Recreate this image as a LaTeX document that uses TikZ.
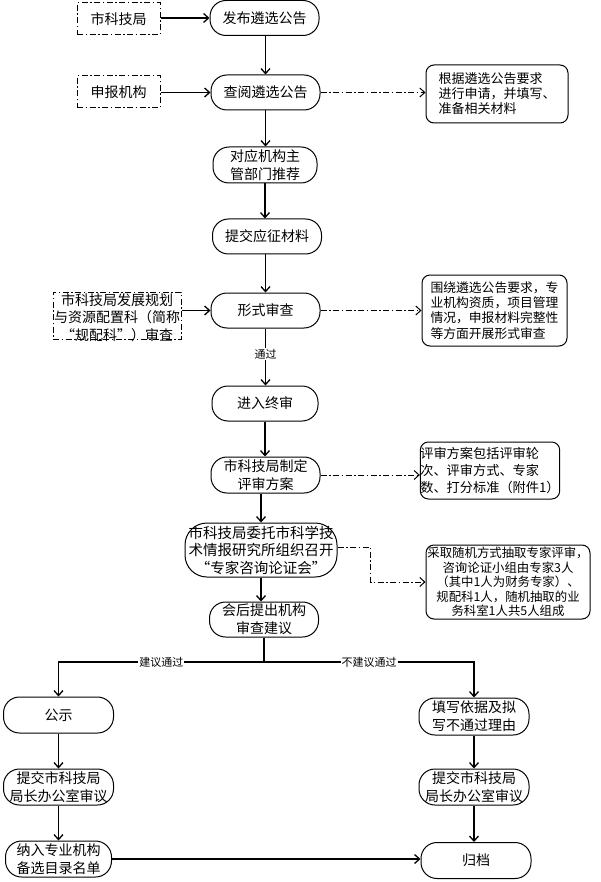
\documentclass[tikz,border=0pt]{standalone}
\usepackage{fontspec}
\setmainfont{Noto Sans CJK SC}
\usetikzlibrary{arrows.meta}
\begin{document}
\begin{tikzpicture}[x=1pt,y=-1pt,
  proc/.style={draw, line width=1pt, rounded corners=16pt, minimum width=109pt, minimum height=35pt, inner sep=0pt, align=center, font=\fontsize{14}{18}\selectfont},
  note/.style={draw, line width=1pt, rounded corners=8pt, inner sep=0pt, align=left},
  dashbox/.style={draw, line width=1pt, dash pattern=on 6pt off 2.5pt on 1.5pt off 2.5pt, inner sep=0pt},
  arr/.style={draw, line width=1.3pt, -{Straight Barb[length=5pt,width=9pt]}},
  plain/.style={draw, line width=1.3pt},
  dasharr/.style={draw, line width=1pt, dash pattern=on 6pt off 2.5pt on 1.5pt off 2.5pt, -{Straight Barb[length=5pt,width=9pt]}},
  lbl/.style={fill=white, inner sep=1pt, font=\fontsize{11}{13}\selectfont}
]
\useasboundingbox[fill=white] (0,0) rectangle (600,882);

% left dashed boxes
\node[dashbox, minimum width=83pt, minimum height=32pt, font=\fontsize{14}{18}\selectfont] (skj) at (118.5,19) {市科技局};
\node[dashbox, minimum width=83pt, minimum height=32pt, font=\fontsize{14}{18}\selectfont] (sbjg) at (118.5,92) {申报机构};
\node[dashbox, minimum width=128pt, minimum height=47pt] (gpk) at (117,315.5) {};
\node[align=center, inner sep=0pt, font=\fontsize{14}{17.5}\selectfont] (gpkt) at (117,317.5) {市科技局发展规划\\与资源配置科（简称\\“规配科”）审查};

% main column
\node[proc] (fb) at (264.5,18) {发布遴选公告};
\node[proc] (cy) at (265.5,92.5) {查阅遴选公告};
\node[proc, minimum width=104pt, minimum height=36pt] (dy) at (265,165) {对应机构主\\管部门推荐};
\node[proc] (tj) at (267,236.5) {提交应征材料};
\node[proc] (xs) at (265.5,310.5) {形式审查};
\node[proc, minimum width=106pt] (jr) at (265,403.5) {进入终审};
\node[proc, minimum height=36pt] (zd) at (265.5,475) {市科技局制定\\评审方案};
\node[proc, rounded corners=22pt, minimum width=152pt, minimum height=54pt, font=\fontsize{14.5}{17.5}\selectfont] (wt) at (261,550) {市科技局委托市科学技\\术情报研究所组织召开\\“专家咨询论证会”};
\node[proc] (hh) at (264,619.5) {会后提出机构\\审查建议};

% notes
\node[note, minimum width=142pt, minimum height=58pt, font=\fontsize{13}{15}\selectfont] (n1) at (497,94) {根据遴选公告要求\\进行申请，并填写、\\准备相关材料};
\node[note, minimum width=145pt, minimum height=71pt, font=\fontsize{12.8}{15.3}\selectfont] (n2) at (494.5,310.5) {围绕遴选公告要求，专\\业机构资质，项目管理\\情况，申报材料完整性\\等方面开展形式审查};
\node[note, minimum width=134pt, minimum height=57pt, font=\fontsize{13.2}{17}\selectfont] (n3) at (490,470.5) {评审方案包括评审轮\\次、评审方式、专家\\数、打分标准（附件1）};
\node[note, align=center, minimum width=164pt, minimum height=74pt, font=\fontsize{12.4}{14.5}\selectfont] (n4) at (508,582) {采取随机方式抽取专家评审，\\咨询论证小组由专家3人\\（其中1人为财务专家）、\\规配科1人，随机抽取的业\\务科室1人共5人组成};

% bottom boxes
\node[proc, minimum width=110pt, minimum height=36pt] (gs) at (58.5,715) {公示};
\node[proc, minimum width=110pt, minimum height=36pt] (tjl) at (58.5,787) {提交市科技局\\局长办公室审议};
\node[proc, minimum width=106pt, minimum height=36pt] (nr) at (58.5,859) {纳入专业机构\\备选目录名单};
\node[proc, minimum width=110pt, minimum height=37pt] (tx) at (474,716.5) {填写依据及拟\\写不通过理由};
\node[proc, minimum width=110pt, minimum height=36pt] (tjr) at (474,787) {提交市科技局\\局长办公室审议};
\node[proc, minimum width=110pt, minimum height=36pt] (gd) at (476,860.5) {归档};

% connectors
\draw[arr] (skj.east |- fb.west) -- (fb.west);
\draw[arr] (sbjg.east |- cy.west) -- (cy.west);
\draw[arr] (gpk.east |- xs.west) -- (xs.west);

\draw[arr] (fb.south -| cy.north) -- (cy.north);
\draw[arr] (cy.south) -- (cy.south |- dy.north);
\draw[arr] (dy.south) -- (dy.south |- tj.north);
\draw[arr] (xs.north |- tj.south) -- (xs.north);
\draw[arr] (xs.south) -- node[lbl, pos=0.45] (tg) {通过} (xs.south |- jr.north);
\draw[arr] (jr.south) -- (jr.south |- zd.north);
\draw[arr] (wt.north |- zd.south) -- (wt.north);
\draw[arr] (wt.south) -- (wt.south |- hh.north);

\draw[dasharr] (cy.east) -- (n1.west |- cy.east);
\draw[dasharr] (xs.east) -- (n2.west |- xs.east);
\draw[dasharr] (zd.east) -- (n3.west |- zd.east);
\coordinate (wtr) at ([yshift=3pt]wt.east);
\draw[dasharr] (wtr) -- ++(33,0) |- (n4.west);

\coordinate (br) at (264,662);
\draw[plain] (hh.south) -- (br);
\draw[arr] (br) -| node[lbl, pos=0.25] (jy) {建议通过} (gs.north);
\draw[arr] (br) -| node[lbl, pos=0.25] (bjy) {不建议通过} (tx.north);

\draw[arr] (gs) -- (tjl);
\draw[arr] (tjl) -- (nr);
\draw[arr] (tx) -- (tjr);
\draw[arr] (tjr.south) -- (tjr.south |- gd.north);
\draw[arr] (nr.east) -- (gd.west |- nr.east);
\end{tikzpicture}
\end{document}
